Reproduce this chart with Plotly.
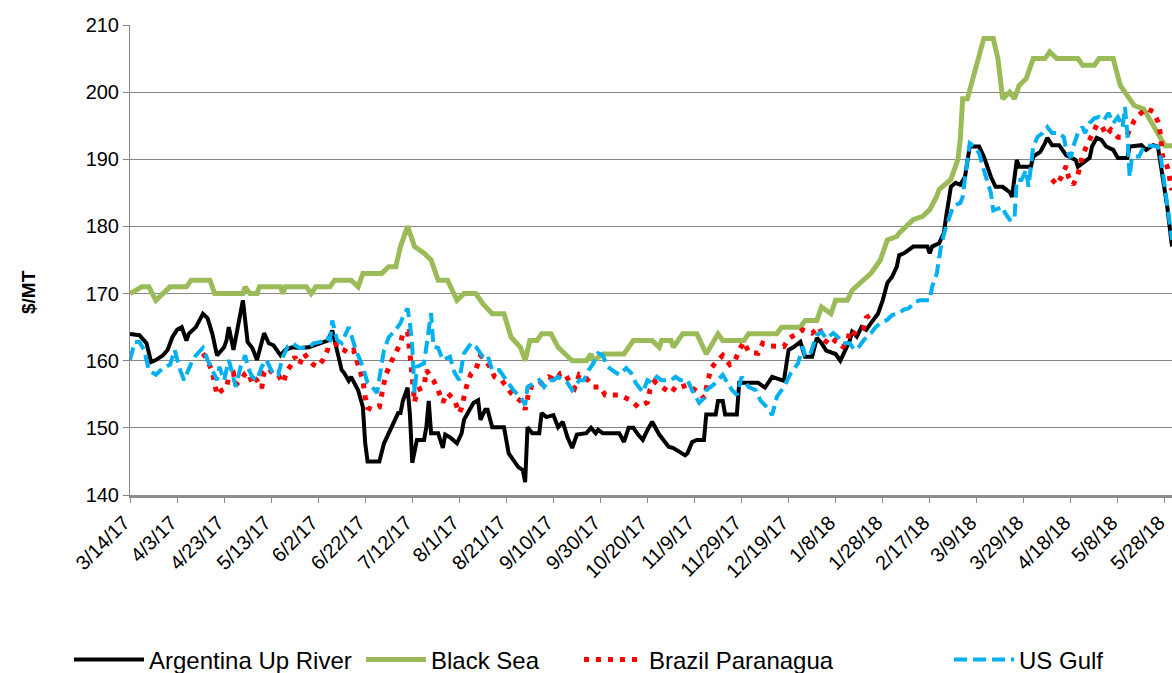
import plotly.graph_objects as go

FONT = "Liberation Sans, Arial, sans-serif"

# ---------------- data ----------------
argentina = [
    ("2017-03-14",164.0),("2017-03-18",163.8),("2017-03-21",162.6),("2017-03-23",159.8),("2017-03-25",160.1),
    ("2017-03-28",160.8),("2017-03-30",161.6),("2017-04-01",163.5),("2017-04-03",164.6),("2017-04-05",165.0),
    ("2017-04-07",163.0),("2017-04-08",164.0),("2017-04-11",165.0),("2017-04-14",167.0),("2017-04-16",166.3),
    ("2017-04-18",164.0),("2017-04-20",160.8),("2017-04-23",162.0),("2017-04-24",163.0),("2017-04-25",165.0),
    ("2017-04-27",161.6),("2017-04-29",165.6),("2017-05-01",169.0),("2017-05-03",162.8),("2017-05-05",161.9),
    ("2017-05-07",160.1),("2017-05-10",164.1),("2017-05-12",162.6),("2017-05-14",162.3),("2017-05-17",160.8),
    ("2017-05-19",161.6),("2017-05-22",162.0),("2017-05-25",161.9),("2017-05-29",162.0),("2017-06-03",162.6),
    ("2017-06-06",163.0),("2017-06-08",164.5),("2017-06-10",161.2),("2017-06-12",158.6),("2017-06-13",158.2),
    ("2017-06-15",157.0),("2017-06-16",157.6),("2017-06-19",155.6),("2017-06-21",153.1),("2017-06-22",147.7),
    ("2017-06-23",145.0),("2017-06-28",145.0),("2017-06-30",147.7),("2017-07-02",149.2),("2017-07-03",150.0),
    ("2017-07-06",152.2),("2017-07-07",152.2),("2017-07-08",154.0),("2017-07-10",156.0),("2017-07-11",152.0),
    ("2017-07-12",144.8),("2017-07-14",148.2),("2017-07-17",148.2),("2017-07-18",150.1),("2017-07-19",154.0),
    ("2017-07-20",149.2),("2017-07-23",149.2),("2017-07-25",147.0),("2017-07-26",149.0),("2017-07-28",148.6),
    ("2017-07-31",147.7),("2017-08-02",149.2),("2017-08-03",151.2),("2017-08-07",153.7),("2017-08-09",154.1),
    ("2017-08-10",151.2),("2017-08-12",152.7),("2017-08-13",152.7),("2017-08-15",150.1),("2017-08-20",150.1),
    ("2017-08-22",146.2),("2017-08-24",145.2),("2017-08-26",144.2),("2017-08-28",143.7),("2017-08-29",141.9),
    ("2017-08-30",150.1),("2017-09-01",149.2),("2017-09-04",149.2),("2017-09-05",152.2),("2017-09-07",151.6),
    ("2017-09-10",151.9),("2017-09-12",150.1),("2017-09-14",150.9),("2017-09-16",148.6),("2017-09-18",147.0),
    ("2017-09-20",149.0),("2017-09-24",149.2),("2017-09-26",150.0),("2017-09-28",149.2),("2017-09-29",149.7),
    ("2017-10-01",149.2),("2017-10-08",149.2),("2017-10-10",147.9),("2017-10-12",150.0),("2017-10-14",150.0),
    ("2017-10-16",149.0),("2017-10-18",148.2),("2017-10-20",149.7),("2017-10-22",150.9),("2017-10-25",149.0),
    ("2017-10-27",148.2),("2017-10-29",147.2),("2017-10-31",147.0),("2017-11-03",146.4),("2017-11-05",145.9),
    ("2017-11-06",146.2),("2017-11-08",147.9),("2017-11-10",148.2),("2017-11-13",148.2),("2017-11-14",152.0),
    ("2017-11-18",152.0),("2017-11-19",154.0),("2017-11-21",154.0),("2017-11-22",152.0),("2017-11-27",152.0),
    ("2017-11-28",156.7),("2017-12-06",156.7),("2017-12-09",156.0),("2017-12-12",157.6),("2017-12-17",157.0),
    ("2017-12-19",161.6),("2017-12-21",162.0),("2017-12-24",162.8),("2017-12-26",160.6),("2017-12-29",160.6),
    ("2017-12-31",163.4),("2018-01-02",162.6),("2018-01-04",161.5),("2018-01-08",161.0),("2018-01-10",160.0),
    ("2018-01-12",161.6),("2018-01-14",163.0),("2018-01-15",164.3),("2018-01-17",163.6),("2018-01-19",165.0),
    ("2018-01-21",164.6),("2018-01-23",165.6),("2018-01-26",167.0),("2018-01-28",169.0),("2018-01-30",171.6),
    ("2018-02-01",172.5),("2018-02-03",174.0),("2018-02-04",175.7),("2018-02-06",176.0),("2018-02-10",177.0),
    ("2018-02-16",177.0),("2018-02-17",176.0),("2018-02-18",177.0),("2018-02-21",177.5),("2018-02-23",179.0),
    ("2018-02-24",181.5),("2018-02-26",185.9),("2018-02-28",186.5),("2018-03-02",186.2),("2018-03-04",187.4),
    ("2018-03-06",191.9),("2018-03-10",191.9),("2018-03-12",190.4),("2018-03-15",187.4),("2018-03-17",185.9),
    ("2018-03-20",185.9),("2018-03-23",185.1),("2018-03-24",184.4),("2018-03-26",189.9),("2018-03-27",188.9),
    ("2018-04-01",188.9),("2018-04-02",190.4),("2018-04-05",191.1),("2018-04-07",192.4),("2018-04-08",193.2),
    ("2018-04-10",192.1),("2018-04-13",192.1),("2018-04-16",190.6),("2018-04-18",190.2),("2018-04-20",189.9),
    ("2018-04-21",188.9),("2018-04-23",189.4),("2018-04-26",190.2),("2018-04-27",191.9),("2018-04-29",193.2),
    ("2018-05-01",192.9),("2018-05-03",191.9),("2018-05-06",191.4),("2018-05-08",190.2),("2018-05-12",190.2),
    ("2018-05-13",191.9),("2018-05-18",192.1),("2018-05-20",191.4),("2018-05-23",192.1),("2018-05-25",191.9),
    ("2018-05-27",187.4),("2018-05-29",182.9),("2018-05-31",177.0),
]

black_sea = [
    ("2017-03-14",170),("2017-03-19",171),("2017-03-22",171),("2017-03-25",169),("2017-03-28",170),
    ("2017-03-31",171),("2017-04-07",171),("2017-04-09",172),("2017-04-17",172),("2017-04-19",170),
    ("2017-05-01",170),("2017-05-02",171),("2017-05-04",170),("2017-05-07",170),("2017-05-08",171),
    ("2017-05-17",171),("2017-05-18",170),("2017-05-19",171),("2017-05-28",171),("2017-05-30",170),
    ("2017-06-01",171),("2017-06-07",171),("2017-06-09",172),("2017-06-16",172),("2017-06-19",171),
    ("2017-06-21",173),("2017-06-29",173),("2017-07-02",174),("2017-07-05",174),("2017-07-07",177),
    ("2017-07-10",180),("2017-07-13",177),("2017-07-17",176),("2017-07-20",175),("2017-07-23",172),
    ("2017-07-27",172),("2017-07-31",169),("2017-08-03",170),("2017-08-08",170),("2017-08-11",168.5),
    ("2017-08-15",167),("2017-08-20",167),("2017-08-23",163.5),("2017-08-27",162),("2017-08-29",160),
    ("2017-08-31",163),("2017-09-03",163),("2017-09-05",164),("2017-09-09",164),("2017-09-12",162),
    ("2017-09-18",160),("2017-09-24",160),("2017-09-26",161),("2017-09-27",160),("2017-10-01",161),
    ("2017-10-10",161),("2017-10-14",163),("2017-10-22",163),("2017-10-25",162),("2017-10-26",163),
    ("2017-10-30",163),("2017-10-31",162),("2017-11-04",164),("2017-11-10",164),("2017-11-14",161),
    ("2017-11-17",163),("2017-11-19",164),("2017-11-21",163),("2017-11-30",163),("2017-12-02",164),
    ("2017-12-14",164),("2017-12-16",165),("2017-12-24",165),("2017-12-26",166),("2017-12-31",166),
    ("2018-01-02",168),("2018-01-06",167),("2018-01-08",169),("2018-01-13",169),("2018-01-15",170.5),
    ("2018-01-18",171.5),("2018-01-23",173),("2018-01-25",174),("2018-01-27",175),("2018-01-30",178),
    ("2018-02-03",178.5),("2018-02-04",179),("2018-02-07",180),("2018-02-10",181),("2018-02-14",181.5),
    ("2018-02-17",182.5),("2018-02-20",184.5),("2018-02-21",185.5),("2018-02-26",187),("2018-02-27",188),
    ("2018-03-01",190),("2018-03-02",193),("2018-03-03",199),("2018-03-05",199),("2018-03-08",203),
    ("2018-03-10",206),("2018-03-12",208),("2018-03-16",208),("2018-03-18",205),("2018-03-20",199),
    ("2018-03-23",200),("2018-03-25",199),("2018-03-27",201),("2018-03-30",202),("2018-04-02",205),
    ("2018-04-07",205),("2018-04-09",206),("2018-04-12",205),("2018-04-21",205),("2018-04-23",204),
    ("2018-04-28",204),("2018-04-30",205),("2018-05-06",205),("2018-05-09",201),("2018-05-12",199.5),
    ("2018-05-15",198),("2018-05-19",197.5),("2018-05-23",195),("2018-05-25",194),("2018-05-28",192),
    ("2018-05-31",192),
]

brazil = [
    ("2017-04-14",161.1),("2017-04-16",160.1),("2017-04-18",158.3),("2017-04-19",156.7),("2017-04-20",154.9),
    ("2017-04-22",155.6),("2017-04-24",155.9),("2017-04-25",157.6),("2017-04-27",158.1),("2017-04-28",156.4),
    ("2017-04-30",157.1),("2017-05-02",158.1),("2017-05-03",158.3),("2017-05-05",156.7),("2017-05-06",157.4),
    ("2017-05-07",157.1),("2017-05-09",155.9),("2017-05-10",158.3),("2017-05-12",158.9),("2017-05-14",157.9),
    ("2017-05-16",157.9),("2017-05-18",156.7),("2017-05-20",158.6),("2017-05-22",159.6),("2017-05-23",160.6),
    ("2017-05-25",159.4),("2017-05-27",161.1),("2017-05-29",160.1),("2017-05-31",159.4),("2017-06-02",159.1),
    ("2017-06-04",160.1),("2017-06-06",161.6),("2017-06-07",163.4),("2017-06-09",163.4),("2017-06-10",161.9),
    ("2017-06-13",161.6),("2017-06-15",161.1),("2017-06-17",161.6),("2017-06-19",159.1),("2017-06-21",157.1),
    ("2017-06-22",154.6),("2017-06-23",153.0),("2017-06-25",152.7),("2017-06-28",153.1),("2017-06-30",156.7),
    ("2017-07-01",158.1),("2017-07-03",159.8),("2017-07-05",161.1),("2017-07-07",162.6),("2017-07-08",164.1),
    ("2017-07-10",164.3),("2017-07-11",161.1),("2017-07-12",157.1),("2017-07-13",153.8),("2017-07-14",155.6),
    ("2017-07-17",156.1),("2017-07-18",158.6),("2017-07-20",157.6),("2017-07-21",157.1),("2017-07-23",155.6),
    ("2017-07-25",153.8),("2017-07-27",155.2),("2017-07-30",154.1),("2017-08-01",152.2),("2017-08-02",153.0),
    ("2017-08-03",154.6),("2017-08-04",156.1),("2017-08-06",158.1),("2017-08-08",158.6),("2017-08-10",160.8),
    ("2017-08-12",160.1),("2017-08-14",159.1),("2017-08-16",157.6),("2017-08-19",157.1),("2017-08-21",156.1),
    ("2017-08-23",155.2),("2017-08-25",154.6),("2017-08-28",153.7),("2017-08-29",152.7),("2017-08-31",156.1),
    ("2017-09-02",155.9),("2017-09-05",156.7),("2017-09-08",157.6),("2017-09-11",157.1),("2017-09-13",158.1),
    ("2017-09-15",158.1),("2017-09-17",156.7),("2017-09-19",155.9),("2017-09-21",157.9),("2017-09-24",157.4),
    ("2017-09-27",156.1),("2017-09-30",156.1),("2017-10-02",154.9),("2017-10-04",154.9),("2017-10-08",154.9),
    ("2017-10-11",154.4),("2017-10-13",154.1),("2017-10-16",153.1),("2017-10-20",153.8),("2017-10-21",155.6),
    ("2017-10-23",156.9),("2017-10-26",156.1),("2017-10-30",155.2),("2017-11-01",156.1),("2017-11-02",155.9),
    ("2017-11-06",156.4),("2017-11-08",155.9),("2017-11-11",155.2),("2017-11-13",154.4),("2017-11-14",156.1),
    ("2017-11-15",157.6),("2017-11-16",158.9),("2017-11-19",160.1),("2017-11-21",160.8),("2017-11-24",159.4),
    ("2017-11-26",159.8),("2017-11-28",161.6),("2017-11-30",162.8),("2017-12-02",161.3),("2017-12-06",161.1),
    ("2017-12-08",162.6),("2017-12-11",162.2),("2017-12-17",162.1),("2017-12-19",163.3),("2017-12-23",164.1),
    ("2017-12-25",164.6),("2017-12-29",164.1),("2018-01-01",165.0),("2018-01-03",163.1),("2018-01-06",162.3),
    ("2018-01-08",163.1),("2018-01-11",162.1),("2018-01-13",162.6),("2018-01-14",164.6),("2018-01-16",164.1),
    ("2018-01-18",164.9),("2018-01-20",164.9),("2018-01-21",166.4),("2018-01-25",167.3),
    ("2018-02-28",None),
    ("2018-04-10",187.0),("2018-04-12",186.2),("2018-04-14",187.4),("2018-04-16",189.0),("2018-04-17",187.4),
    ("2018-04-19",186.2),("2018-04-21",187.7),("2018-04-22",189.4),("2018-04-23",190.6),("2018-04-25",192.2),
    ("2018-04-27",193.6),("2018-04-29",195.1),("2018-05-01",195.1),("2018-05-03",193.6),("2018-05-05",194.4),
    ("2018-05-08",193.3),("2018-05-10",193.3),("2018-05-12",193.6),("2018-05-13",194.4),("2018-05-15",195.8),
    ("2018-05-17",196.6),("2018-05-20",197.6),("2018-05-23",197.1),("2018-05-25",195.6),("2018-05-26",193.9),
    ("2018-05-27",190.4),("2018-05-29",188.9),("2018-05-31",185.4),
]

us_gulf = [
    ("2017-03-14",160.1),("2017-03-16",162.8),("2017-03-18",162.8),("2017-03-20",161.6),("2017-03-22",158.6),
    ("2017-03-25",157.9),("2017-03-28",158.9),("2017-03-31",159.4),("2017-04-02",161.6),("2017-04-04",158.9),
    ("2017-04-06",157.1),("2017-04-09",159.6),("2017-04-11",160.8),("2017-04-14",161.9),("2017-04-16",160.1),
    ("2017-04-18",158.6),("2017-04-20",157.1),("2017-04-21",159.1),("2017-04-23",157.1),("2017-04-25",160.1),
    ("2017-04-27",157.6),("2017-04-28",156.1),("2017-04-30",159.1),("2017-05-02",160.8),("2017-05-03",159.1),
    ("2017-05-05",157.6),("2017-05-07",157.1),("2017-05-09",159.1),("2017-05-11",160.1),("2017-05-14",157.9),
    ("2017-05-16",157.9),("2017-05-18",160.6),("2017-05-20",162.1),("2017-05-22",162.6),("2017-05-25",161.9),
    ("2017-05-29",161.9),("2017-05-31",162.6),("2017-06-03",162.8),("2017-06-05",163.5),("2017-06-07",163.1),
    ("2017-06-08",166.0),("2017-06-10",163.1),("2017-06-12",162.6),("2017-06-15",165.0),("2017-06-18",161.6),
    ("2017-06-21",159.1),("2017-06-23",156.7),("2017-06-25",156.1),("2017-06-27",155.2),("2017-06-29",159.1),
    ("2017-06-30",161.6),("2017-07-02",163.5),("2017-07-05",164.6),("2017-07-07",165.6),("2017-07-08",166.5),
    ("2017-07-10",167.8),("2017-07-11",165.6),("2017-07-12",162.1),("2017-07-13",155.2),("2017-07-14",159.1),
    ("2017-07-17",159.6),("2017-07-18",162.1),("2017-07-20",167.1),("2017-07-21",162.1),("2017-07-23",161.9),
    ("2017-07-25",160.1),("2017-07-28",160.6),("2017-07-30",158.2),("2017-08-01",157.1),("2017-08-03",161.1),
    ("2017-08-06",162.6),("2017-08-08",162.1),("2017-08-11",160.6),("2017-08-13",160.8),("2017-08-15",158.6),
    ("2017-08-18",158.6),("2017-08-21",157.1),("2017-08-24",155.6),("2017-08-27",154.6),("2017-08-29",153.4),
    ("2017-08-30",156.1),("2017-09-02",156.7),("2017-09-04",157.1),("2017-09-06",156.1),("2017-09-08",157.1),
    ("2017-09-10",157.1),("2017-09-12",157.6),("2017-09-14",157.1),("2017-09-16",156.7),("2017-09-18",155.6),
    ("2017-09-21",157.1),("2017-09-23",157.1),("2017-09-25",158.6),("2017-09-27",159.6),("2017-09-29",161.1),
    ("2017-10-01",160.8),("2017-10-03",159.1),("2017-10-05",158.6),("2017-10-08",157.9),("2017-10-11",158.9),
    ("2017-10-13",158.2),("2017-10-15",156.7),("2017-10-18",155.3),("2017-10-20",157.1),("2017-10-22",156.7),
    ("2017-10-24",157.6),("2017-10-26",157.1),("2017-10-30",157.1),("2017-11-01",157.6),("2017-11-03",157.1),
    ("2017-11-06",157.1),("2017-11-08",155.6),("2017-11-10",154.4),("2017-11-11",153.7),("2017-11-13",154.4),
    ("2017-11-14",155.6),("2017-11-17",156.4),("2017-11-19",157.1),("2017-11-21",157.9),("2017-11-23",156.7),
    ("2017-11-25",155.6),("2017-11-27",154.9),("2017-11-29",157.6),("2017-12-02",156.1),("2017-12-05",155.6),
    ("2017-12-07",154.1),("2017-12-10",153.0),("2017-12-12",151.9),("2017-12-14",154.6),("2017-12-17",156.1),
    ("2017-12-20",158.2),("2017-12-23",159.6),("2017-12-25",162.1),("2017-12-26",160.8),("2017-12-28",160.8),
    ("2017-12-31",163.8),("2018-01-02",164.3),("2018-01-04",163.3),("2018-01-07",164.1),("2018-01-09",163.5),
    ("2018-01-11",162.6),("2018-01-14",162.6),("2018-01-16",161.6),("2018-01-18",162.1),("2018-01-20",163.1),
    ("2018-01-23",164.1),("2018-01-25",165.0),("2018-01-27",165.6),("2018-01-30",166.1),("2018-02-01",166.8),
    ("2018-02-04",167.1),("2018-02-06",167.6),("2018-02-08",167.8),("2018-02-11",168.8),("2018-02-13",169.0),
    ("2018-02-17",169.0),("2018-02-18",171.0),("2018-02-20",173.0),("2018-02-21",175.0),("2018-02-22",177.5),
    ("2018-02-24",180.0),("2018-02-26",182.0),("2018-02-27",183.0),("2018-03-02",183.5),("2018-03-03",184.4),
    ("2018-03-05",189.9),("2018-03-06",192.4),("2018-03-08",191.9),("2018-03-10",190.9),("2018-03-12",188.4),
    ("2018-03-15",185.0),("2018-03-16",182.4),("2018-03-20",182.9),("2018-03-21",182.0),("2018-03-23",181.0),
    ("2018-03-25",181.0),("2018-03-26",186.9),("2018-03-28",186.9),("2018-03-30",188.4),("2018-03-31",185.9),
    ("2018-04-02",191.9),("2018-04-04",193.4),("2018-04-06",193.9),("2018-04-08",194.8),("2018-04-10",193.9),
    ("2018-04-13",193.9),("2018-04-15",193.3),("2018-04-16",191.4),("2018-04-18",190.2),("2018-04-19",191.9),
    ("2018-04-21",193.9),("2018-04-23",194.8),("2018-04-24",193.9),("2018-04-26",195.4),("2018-04-28",196.1),
    ("2018-04-30",196.3),("2018-05-02",195.8),("2018-05-04",196.9),("2018-05-06",195.4),("2018-05-08",196.3),
    ("2018-05-10",194.8),("2018-05-11",197.8),("2018-05-12",193.9),("2018-05-13",187.4),("2018-05-14",190.4),
    ("2018-05-17",190.4),("2018-05-19",191.9),("2018-05-20",192.1),("2018-05-23",191.9),("2018-05-25",191.9),
    ("2018-05-26",190.9),("2018-05-28",185.9),("2018-05-30",181.0),("2018-05-31",178.0),
]

tick_dates = ["2017-03-14","2017-04-03","2017-04-23","2017-05-13","2017-06-02","2017-06-22","2017-07-12",
              "2017-08-01","2017-08-21","2017-09-10","2017-09-30","2017-10-20","2017-11-09","2017-11-29",
              "2017-12-19","2018-01-08","2018-01-28","2018-02-17","2018-03-09","2018-03-29","2018-04-18",
              "2018-05-08","2018-05-28"]
tick_labels = ["3/14/17","4/3/17","4/23/17","5/13/17","6/2/17","6/22/17","7/12/17","8/1/17","8/21/17",
               "9/10/17","9/30/17","10/20/17","11/9/17","11/29/17","12/19/17","1/8/18","1/28/18","2/17/18",
               "3/9/18","3/29/18","4/18/18","5/8/18","5/28/18"]

y_ticks = [140, 150, 160, 170, 180, 190, 200, 210]

series = [
    ("Argentina Up River", argentina, dict(color="#000000", width=4), "legend"),
    ("Black Sea", black_sea, dict(color="#9BBB59", width=5), "legend2"),
    ("Brazil Paranagua", brazil, dict(color="#FF0000", width=5, dash="5px,7px"), "legend3"),
    ("US Gulf", us_gulf, dict(color="#00B0F0", width=4, dash="13px,6px"), "legend4"),
]

fig = go.Figure()
for name, pts, line, leg in series:
    fig.add_trace(go.Scatter(
        x=[d for d, _ in pts], y=[v for _, v in pts], name=name, mode="lines",
        line=line, connectgaps=False, legend=leg, hoverinfo="x+y+name"))

leg_base = dict(orientation="h", xref="container", yref="container", y=1 - 660 / 673, yanchor="middle",
                xanchor="left", font=dict(family=FONT, size=24, color="#000000"),
                bgcolor="rgba(0,0,0,0)", borderwidth=0)

fig.update_layout(
    width=1172, height=673,
    margin=dict(l=130, r=0, t=25, b=178, autoexpand=False),
    paper_bgcolor="white", plot_bgcolor="white",
    font=dict(family=FONT, color="#000000"),
    showlegend=True,
    legend=dict(leg_base, x=69 / 1172, itemwidth=70),
    legend2=dict(leg_base, x=361 / 1172, itemwidth=60),
    legend3=dict(leg_base, x=579 / 1172, itemwidth=60),
    legend4=dict(leg_base, x=949 / 1172, itemwidth=60),
    xaxis=dict(
        type="date", range=["2017-03-14", "2018-05-31"],
        tickmode="array", tickvals=tick_dates, ticktext=tick_labels, tickangle=-45,
        ticklabeloverflow="allow", ticklabelshift=-6,
        tickfont=dict(family=FONT, size=20, color="#000000"),
        showgrid=False, zeroline=False,
        showline=True, linecolor="#8C8C8C", linewidth=3,
        ticks="outside", ticklen=5, tickcolor="#8C8C8C", tickwidth=1,
    ),
    yaxis=dict(
        range=[140, 210], tickmode="array", tickvals=y_ticks,
        tickfont=dict(family=FONT, size=20, color="#000000"),
        showgrid=True, gridcolor="#868686", gridwidth=1, zeroline=False,
        showline=True, linecolor="#868686", linewidth=1,
        ticks="outside", ticklen=6, tickcolor="#868686",
    ),
    annotations=[dict(
        text="<b>$/MT</b>", xref="paper", yref="paper", x=(28 - 130) / 1042, y=(495 - 292) / 470,
        textangle=-90, showarrow=False, font=dict(family=FONT, size=19, color="#000000"),
        xanchor="center", yanchor="middle")],
)

fig.write_html("out.html", config={"displayModeBar": False},
               post_script="document.body.style.margin='0';document.body.style.overflow='hidden';")
